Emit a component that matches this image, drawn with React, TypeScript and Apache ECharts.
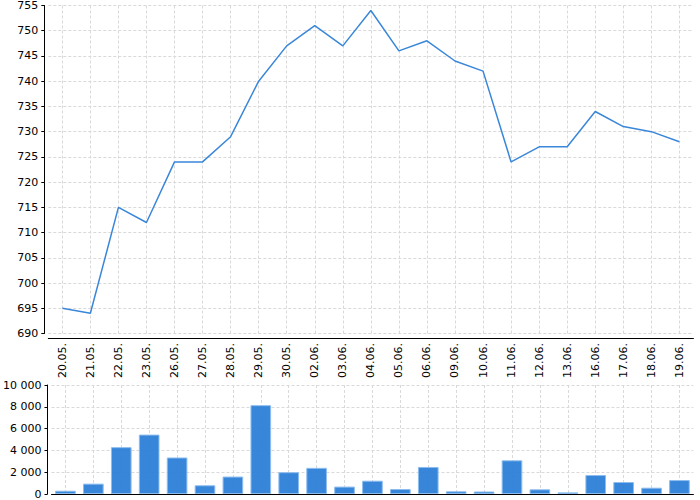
import React, { useEffect, useRef } from "react";
import * as echarts from "echarts";

const categories = [
  "20.05.", "21.05.", "22.05.", "23.05.", "26.05.", "27.05.", "28.05.", "29.05.", "30.05.",
  "02.06.", "03.06.", "04.06.", "05.06.", "06.06.", "09.06.", "10.06.", "11.06.", "12.06.",
  "13.06.", "16.06.", "17.06.", "18.06.", "19.06.",
];
const prices = [695, 694, 715, 712, 724, 724, 729, 740, 747, 751, 747, 754, 746, 748, 744, 742, 724, 727, 727, 734, 731, 730, 728];
const volumes = [300, 950, 4300, 5450, 3350, 800, 1600, 8150, 2000, 2400, 680, 1220, 460, 2480, 250, 230, 3090, 430, 150, 1740, 1100, 580, 1280];

const priceMin = 690;
const priceMax = 755;
const priceStep = 5;
const volMin = 0;
const volMax = 10000;
const volStep = 2000;

const FONT = "DejaVu Sans";
const gridLine = { show: true, lineStyle: { color: "#d9d9d9", type: [3, 2] as any, width: 1 } };

export default function App() {
  const ref = useRef<HTMLDivElement>(null);
  useEffect(() => {
    if (!ref.current) return;
    const chart = echarts.init(ref.current, null, { renderer: "svg" });
    chart.setOption({
      animation: false,
      textStyle: { fontFamily: FONT },
      grid: [
        { left: 48.3, right: 6.6, top: 5, height: 328.5 },
        { left: 48.3, right: 6.6, top: 385, height: 109 },
      ],
      xAxis: [
        {
          type: "category",
          gridIndex: 0,
          data: categories,
          boundaryGap: true,
          offset: 4.5,
          axisLine: { lineStyle: { color: "#000", width: 1 } },
          axisTick: { show: false },
          axisLabel: { rotate: 90, fontSize: 11, color: "#000", fontFamily: FONT, margin: 5, interval: 0 },
          splitLine: { ...gridLine, alignWithLabel: true, interval: 0 },
        },
        {
          type: "category",
          gridIndex: 1,
          data: categories,
          boundaryGap: true,
          offset: 0.5,
          axisLine: { lineStyle: { color: "#000", width: 1 } },
          axisTick: { show: false },
          axisLabel: { show: false },
          splitLine: { ...gridLine, alignWithLabel: true, interval: 0 },
        },
      ],
      yAxis: [
        {
          type: "value",
          gridIndex: 0,
          min: priceMin,
          max: priceMax,
          interval: priceStep,
          offset: 4,
          axisLine: { show: true, lineStyle: { color: "#000", width: 1 } },
          axisTick: { show: true, length: 3, lineStyle: { color: "#000" } },
          axisLabel: { fontSize: 11, color: "#000", fontFamily: FONT, margin: 6 },
          splitLine: gridLine,
        },
        {
          type: "value",
          gridIndex: 1,
          min: volMin,
          max: volMax,
          interval: volStep,
          offset: 4,
          axisLine: { show: true, lineStyle: { color: "#000", width: 1 } },
          axisTick: { show: true, length: 3, lineStyle: { color: "#000" } },
          axisLabel: {
            fontSize: 11,
            color: "#000",
            fontFamily: FONT,
            margin: 6,
            formatter: (v: number) => String(v).replace(/\B(?=(\d{3})+(?!\d))/g, " "),
          },
          splitLine: gridLine,
        },
      ],
      series: [
        {
          type: "line",
          xAxisIndex: 0,
          yAxisIndex: 0,
          data: prices,
          symbol: "none",
          lineStyle: { color: "#3a87d9", width: 1.5 },
        },
        {
          type: "bar",
          xAxisIndex: 1,
          yAxisIndex: 1,
          data: volumes,
          barWidth: "74%",
          itemStyle: { color: "rgba(40,125,215,0.93)", borderColor: "#8dbdee", borderWidth: 1 },
        },
      ],
    });
    return () => chart.dispose();
  }, []);
  return <div ref={ref} style={{ width: 700, height: 500, position: "absolute", left: 0, top: 0 }} />;
}
